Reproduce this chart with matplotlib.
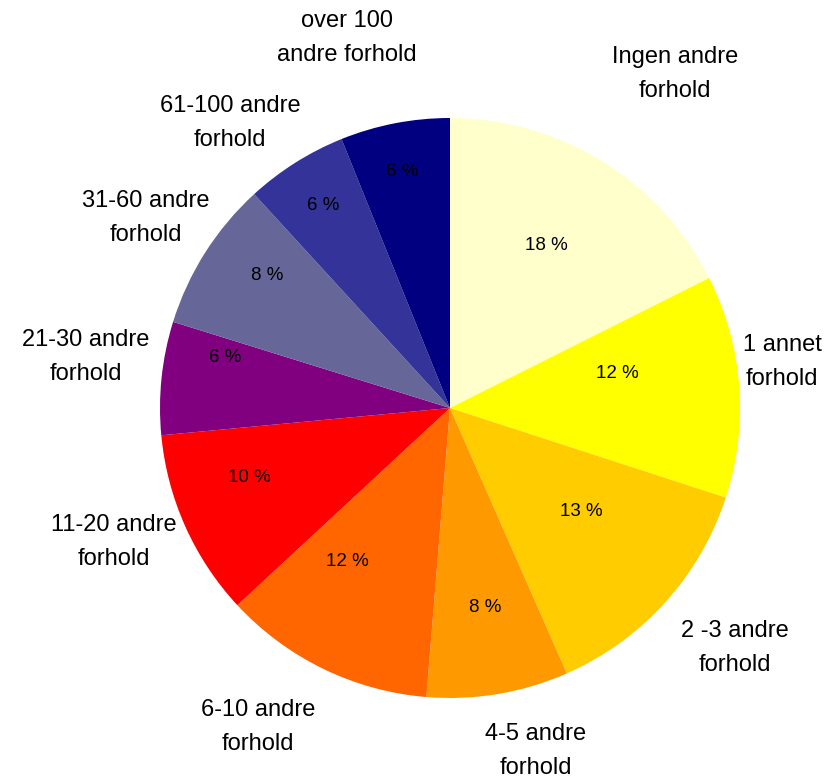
"""Pie chart: number of other relationships (share of respondents)."""
import matplotlib
matplotlib.use("Agg")
import matplotlib.pyplot as plt

plt.rcParams["font.family"] = ["Liberation Sans", "DejaVu Sans"]

categories = [
    "Ingen andre\nforhold",
    "1 annet\nforhold",
    "2 -3 andre\nforhold",
    "4-5 andre\nforhold",
    "6-10 andre\nforhold",
    "11-20 andre\nforhold",
    "21-30 andre\nforhold",
    "31-60 andre\nforhold",
    "61-100 andre\nforhold",
    "over 100\nandre forhold",
]
shares = [17.6, 12.4, 13.4, 7.9, 11.8, 10.4, 6.3, 8.4, 5.7, 6.1]
colors = ["#FFFFCC", "#FFFF00", "#FFCC00", "#FF9900", "#FF6600",
          "#FF0000", "#800080", "#666699", "#333399", "#000080"]

# layout (pixel coordinates, y from top)
W, H = 838, 783
center = (450, 408)
radius = 290
pct_pos = [(546, 245), (617, 374), (581, 511), (485, 608), (347, 562),
           (249, 477), (225, 357), (267, 276), (323, 205), (402, 172)]
label_pos = [(675, 74), (782, 362), (735, 648), (536, 751), (258, 727),
             (114, 542), (86, 357), (146, 218), (230, 123), (347, 38)]

fig = plt.figure(figsize=(W / 100, H / 100), dpi=100)
ax = fig.add_axes([0, 0, 1, 1])

wedges, _, autotexts = ax.pie(
    shares, colors=colors, startangle=90, counterclock=False,
    center=(center[0], H - center[1]), radius=radius,
    autopct="%.0f %%", textprops=dict(fontsize=13.5, color="black"),
    wedgeprops=dict(linewidth=0),
    frame=True,
)
ax.set_xlim(0, W)
ax.set_ylim(0, H)
ax.set_aspect("equal")
ax.axis("off")

for t, (x, y) in zip(autotexts, pct_pos):
    t.set_position((x, H - y))
    t.set_ha("center")
    t.set_va("center")

for lab, (x, y) in zip(categories, label_pos):
    ax.text(x, H - y, lab, ha="center", va="center", fontsize=17,
            linespacing=1.7, color="black")

fig.savefig("out.png", dpi=100)
plt.close(fig)
